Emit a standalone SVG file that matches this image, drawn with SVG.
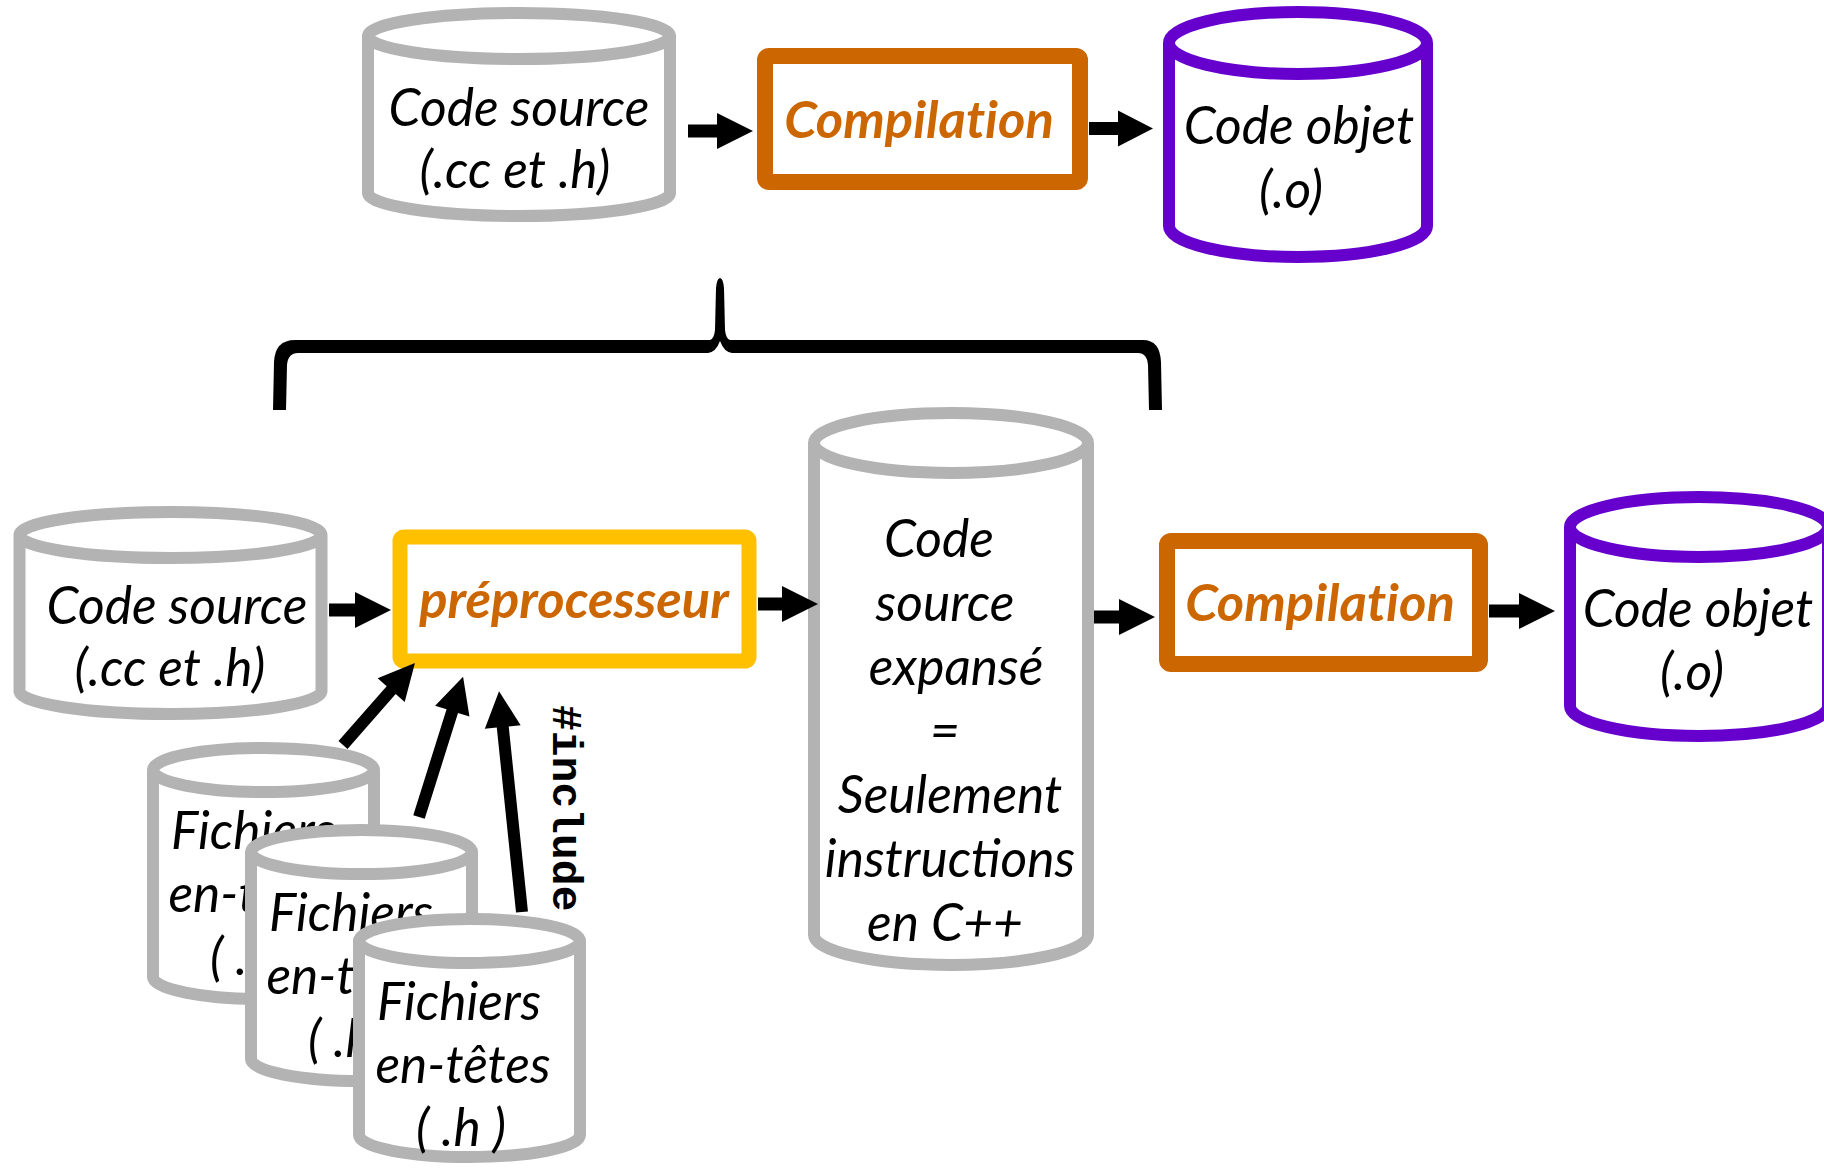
<svg xmlns="http://www.w3.org/2000/svg" width="1824" height="1168" viewBox="0 0 1824 1168">
<style>
.gray{fill:#fff;stroke:#B3B3B3;stroke-width:12;stroke-linejoin:round}
.purple{fill:#fff;stroke:#6600CC;stroke-width:12;stroke-linejoin:round}
.t{font-family:Lato,"Open Sans","DejaVu Sans",sans-serif;font-style:italic;font-size:51.5px;fill:#000;text-anchor:middle}
.b{font-family:Lato,"Open Sans","DejaVu Sans",sans-serif;font-style:italic;font-weight:bold;font-size:52.5px;fill:#CC6600;text-anchor:middle;font-variant-ligatures:none}
.arr{fill:#000}
</style>
<rect width="1824" height="1168" fill="#fff"/>

<g id="top-source">
<path class="gray" d="M368,36 V193 A151,23 0 0 0 670,193 V36 A151,23 0 0 0 368,36 A151,23 0 0 0 670,36"/>
<text class="t" x="519" y="126">Code source</text>
<text class="t" x="515" y="188">(.cc et .h)</text>
</g>
<g id="top-compilation">
<rect x="765" y="56" width="315" height="126" rx="4" fill="#fff" stroke="#CC6600" stroke-width="16"/>
<text class="b" x="919" y="138">Compilation</text>
</g>
<g id="top-objet">
<path class="purple" d="M1169,43 V226 A129,31 0 0 0 1427,226 V43 A129,31 0 0 0 1169,43 A129,31 0 0 0 1427,43"/>
<text class="t" x="1299" y="144">Code objet</text>
<text class="t" x="1291" y="208">(.o)</text>
</g>

<g id="brace">
<path fill="#000" d="M273,410 L274,362 Q275,340 295,340 L710,340 Q714,339 715,330 L716,288 Q717,278 720,278 Q723,278 724,288 L725,330 Q726,339 730,340 L1143,340 Q1160,340 1161,362 L1162,410 L1149,410 L1148,365 Q1147,353 1138,353 L732,353 Q724,352 720,341 Q716,352 708,353 L298,353 Q288,353 287,365 L286,410 Z"/>
</g>

<g id="bottom-source">
<path class="gray" d="M19.5,535 V691 A151,23 0 0 0 321.5,691 V535 A151,23 0 0 0 19.5,535 A151,23 0 0 0 321.5,535"/>
<text class="t" x="177" y="624">Code source</text>
<text class="t" x="170" y="686">(.cc et .h)</text>
</g>
<g id="preprocesseur">
<rect x="400" y="537" width="349" height="124" rx="4" fill="#fff" stroke="#FFC000" stroke-width="15"/>
<text class="b" x="574" y="618">préprocesseur</text>
</g>
<g id="expanse">
<path class="gray" d="M814,443 V935 A137,30 0 0 0 1088,935 V443 A137,30 0 0 0 814,443 A137,30 0 0 0 1088,443"/>
<text class="t" x="939" y="557">Code</text>
<text class="t" x="945" y="621">source</text>
<text class="t" x="956" y="685">expansé</text>
<text class="t" x="945" y="749">=</text>
<text class="t" x="950" y="813">Seulement</text>
<text class="t" x="950" y="877">instructions</text>
<text class="t" x="945" y="941">en C++</text>
</g>
<g id="bottom-compilation">
<rect x="1167" y="541" width="313" height="123" rx="4" fill="#fff" stroke="#CC6600" stroke-width="16"/>
<text class="b" x="1320" y="621">Compilation</text>
</g>
<g id="bottom-objet">
<path class="purple" d="M1570,527 V706 A129,30 0 0 0 1828,706 V527 A129,30 0 0 0 1570,527 A129,30 0 0 0 1828,527"/>
<text class="t" x="1698" y="627">Code objet</text>
<text class="t" x="1692" y="690">(.o)</text>
</g>

<g id="header-1">
<path class="gray" d="M153,770 V977 A110.5,22 0 0 0 374,977 V770 A110.5,22 0 0 0 153,770 A110.5,22 0 0 0 374,770"/>
<text class="t" x="253" y="849">Fichiers</text>
<text class="t" x="256" y="912">en-têtes</text>
<text class="t" x="255" y="975">( .h )</text>
</g>
<g id="header-2">
<path class="gray" d="M251,852 V1059 A110.5,22 0 0 0 472,1059 V852 A110.5,22 0 0 0 251,852 A110.5,22 0 0 0 472,852"/>
<text class="t" x="351" y="931">Fichiers</text>
<text class="t" x="354" y="994">en-têtes</text>
<text class="t" x="353" y="1057">( .h )</text>
</g>
<g id="header-3">
<path class="gray" d="M359,941 V1135 A110.5,22 0 0 0 580,1135 V941 A110.5,22 0 0 0 359,941 A110.5,22 0 0 0 580,941"/>
<text class="t" x="459" y="1020">Fichiers</text>
<text class="t" x="463" y="1083">en-têtes</text>
<text class="t" x="461" y="1146">( .h )</text>
</g>

<g id="connectors">
<polygon class="arr" points="688,124.5 717,124.5 717,113 753,131 717,149 717,137.5 688,137.5"/>
<polygon class="arr" points="1089,122 1118,122 1118,110.5 1153,128.5 1118,146.5 1118,135 1089,135"/>
<polygon class="arr" points="329,603.5 355,603.5 355,592 391,610 355,628 355,616.5 329,616.5"/>
<polygon class="arr" points="758,597.5 782,597.5 782,586 818,604 782,622 782,610.5 758,610.5"/>
<polygon class="arr" points="1094,610.5 1119,610.5 1119,599 1155,617 1119,635 1119,623.5 1094,623.5"/>
<polygon class="arr" points="1489,604.5 1519,604.5 1519,593 1555,611 1519,629 1519,617.5 1489,617.5"/>
<polygon class="arr" transform="translate(343,745) rotate(-48.7)" points="0,-6 73,-6 73,-18 109,0 73,18 73,6 0,6"/>
<polygon class="arr" transform="translate(419,817) rotate(-72.55)" points="0,-6 111,-6 111,-18 147,0 111,18 111,6 0,6"/>
<polygon class="arr" transform="translate(522,912) rotate(-95.94)" points="0,-6 186,-6 186,-18 222,0 186,18 186,6 0,6"/>
<text transform="translate(553,705) rotate(90)" font-family="'Liberation Mono','Courier New',monospace" font-weight="bold" font-size="43">#include</text>
</g>
</svg>
